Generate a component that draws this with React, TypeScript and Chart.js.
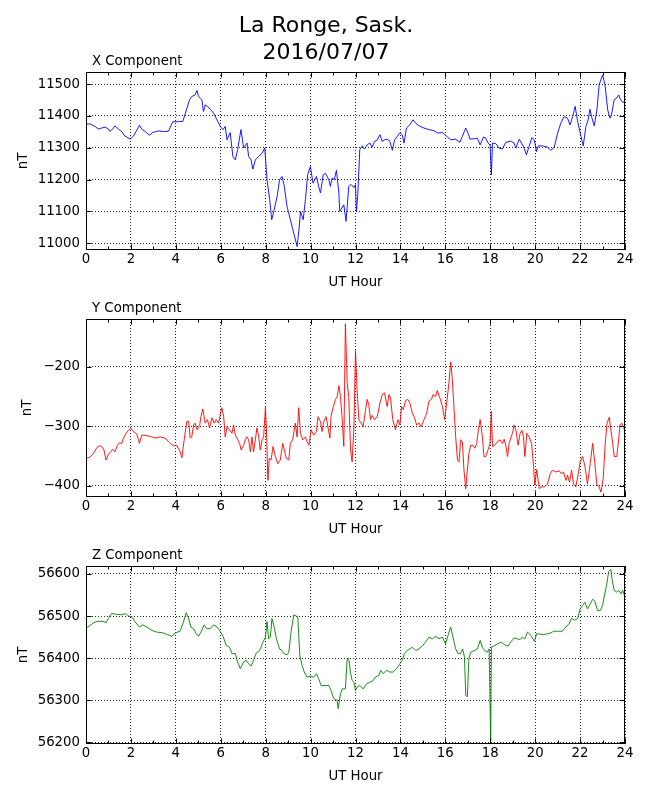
import React, { useEffect, useRef } from "react";
import { Chart, registerables } from "chart.js";

Chart.register(...registerables);

const FONT = "'DejaVu Sans', sans-serif";

// UT hour axis, shared by the three panels
const hourTicks = [0, 2, 4, 6, 8, 10, 12, 14, 16, 18, 20, 22, 24];

// X component (nT)
const hoursX = [
  0, 0.18, 0.4, 0.55, 0.7, 0.85, 1.0, 1.07, 1.22, 1.29, 1.44, 1.59, 1.74, 1.81, 1.96, 2.11, 2.23, 2.38, 2.48, 2.63,
  2.83, 2.97, 3.23, 3.45, 3.67, 3.87, 4.12, 4.31, 4.42, 4.61, 4.71, 4.86, 4.94, 5.01, 5.09, 5.16, 5.23, 5.31, 5.41, 5.53,
  5.68, 5.83, 5.98, 6.1, 6.2, 6.28, 6.42, 6.54, 6.65, 6.75, 6.9, 7.02, 7.17, 7.24, 7.35, 7.43, 7.54, 7.69, 7.84, 7.96,
  8.06, 8.18, 8.27, 8.36, 8.51, 8.62, 8.73, 8.83, 8.95, 9.1, 9.25, 9.4, 9.49, 9.55, 9.67, 9.77, 9.87, 9.99, 10.11, 10.26,
  10.36, 10.44, 10.56, 10.66, 10.81, 10.88, 10.96, 11.06, 11.15, 11.26, 11.3, 11.48, 11.58, 11.7, 11.8, 11.93, 12.0, 12.04, 12.1, 12.19,
  12.3, 12.4, 12.52, 12.64, 12.74, 12.85, 12.97, 13.09, 13.19, 13.29, 13.41, 13.53, 13.64, 13.74, 13.86, 13.98, 14.08, 14.16, 14.27, 14.42,
  14.56, 14.68, 14.83, 15.05, 15.27, 15.49, 15.67, 15.87, 16.09, 16.24, 16.46, 16.65, 16.76, 16.91, 17.01, 17.1, 17.31, 17.43, 17.55, 17.7,
  17.8, 17.9, 17.99, 18.05, 18.1, 18.25, 18.39, 18.54, 18.69, 18.91, 19.06, 19.14, 19.29, 19.39, 19.51, 19.61, 19.73, 19.85, 19.96, 20.06,
  20.13, 20.33, 20.55, 20.7, 20.85, 21.0, 21.14, 21.29, 21.44, 21.55, 21.67, 21.78, 21.89, 22.04, 22.14, 22.26, 22.36, 22.44, 22.51, 22.63,
  22.75, 22.85, 23.0, 23.11, 23.23, 23.33, 23.4, 23.52, 23.63, 23.72, 23.79, 23.9, 24.0,
];
const valuesX = [
  11374, 11375, 11367, 11359, 11362, 11365, 11359, 11351, 11362, 11369, 11359, 11351, 11336, 11334, 11327, 11336, 11351, 11371, 11359, 11351,
  11339, 11348, 11353, 11351, 11352, 11382, 11382, 11383, 11407, 11451, 11461, 11466, 11480, 11461, 11456, 11451, 11414, 11435, 11430, 11421,
  11409, 11388, 11367, 11357, 11367, 11325, 11348, 11273, 11262, 11294, 11357, 11299, 11315, 11273, 11262, 11233, 11262, 11273, 11283, 11299,
  11200, 11137, 11074, 11100, 11147, 11200, 11210, 11179, 11116, 11074, 11032, 10990, 11048, 11100, 11074, 11137, 11215, 11241, 11189, 11210,
  11179, 11158, 11215, 11220, 11200, 11179, 11205, 11200, 11229, 11158, 11100, 11121, 11069, 11179, 11185, 11175, 11184, 11100, 11150, 11294,
  11306, 11296, 11309, 11315, 11302, 11320, 11325, 11341, 11320, 11325, 11327, 11320, 11292, 11325, 11336, 11348, 11341, 11315, 11362, 11372,
  11388, 11377, 11369, 11362, 11357, 11354, 11346, 11348, 11334, 11325, 11327, 11317, 11336, 11362, 11346, 11327, 11329, 11330, 11309, 11334,
  11330, 11315, 11309, 11215, 11315, 11313, 11299, 11296, 11317, 11321, 11315, 11299, 11327, 11315, 11299, 11278, 11304, 11332, 11325, 11288,
  11306, 11306, 11302, 11292, 11302, 11346, 11377, 11398, 11393, 11372, 11398, 11430, 11383, 11336, 11306, 11367, 11388, 11421, 11398, 11369,
  11419, 11498, 11529, 11498, 11419, 11393, 11404, 11451, 11456, 11466, 11453, 11442, 11446,
];
const ticksX = [11000, 11100, 11200, 11300, 11400, 11500];

// Y component (nT)
const hoursY = [
  0, 0.15, 0.33, 0.48, 0.59, 0.7, 0.8, 0.89, 1.0, 1.1, 1.19, 1.29, 1.4, 1.49, 1.59, 1.67, 1.78, 1.89, 1.99, 2.11,
  2.26, 2.38, 2.48, 2.71, 2.93, 3.08, 3.3, 3.52, 3.75, 3.9, 4.04, 4.16, 4.27, 4.37, 4.49, 4.57, 4.64, 4.71, 4.79, 4.86,
  4.94, 5.06, 5.12, 5.2, 5.31, 5.41, 5.5, 5.61, 5.71, 5.8, 5.9, 5.98, 6.05, 6.13, 6.2, 6.28, 6.39, 6.5, 6.57, 6.65,
  6.72, 6.84, 6.91, 7.02, 7.09, 7.17, 7.24, 7.32, 7.39, 7.46, 7.54, 7.61, 7.69, 7.76, 7.84, 7.91, 7.99, 8.03, 8.1, 8.16,
  8.24, 8.33, 8.43, 8.54, 8.65, 8.76, 8.83, 8.92, 9.03, 9.1, 9.2, 9.32, 9.4, 9.47, 9.55, 9.65, 9.77, 9.84, 9.93, 10.02,
  10.14, 10.26, 10.33, 10.44, 10.51, 10.59, 10.69, 10.77, 10.86, 10.91, 11.0, 11.11, 11.18, 11.26, 11.33, 11.41, 11.48, 11.55, 11.63, 11.7,
  11.78, 11.85, 11.93, 12.0, 12.07, 12.15, 12.25, 12.34, 12.45, 12.52, 12.59, 12.67, 12.74, 12.85, 12.97, 13.09, 13.19, 13.29, 13.41, 13.49,
  13.56, 13.66, 13.78, 13.89, 13.98, 14.05, 14.13, 14.23, 14.33, 14.42, 14.53, 14.63, 14.72, 14.83, 14.93, 15.05, 15.17, 15.27, 15.38, 15.46,
  15.57, 15.64, 15.76, 15.87, 15.97, 16.06, 16.16, 16.24, 16.31, 16.39, 16.46, 16.54, 16.61, 16.68, 16.76, 16.83, 16.91, 16.98, 17.05, 17.13,
  17.23, 17.31, 17.4, 17.47, 17.55, 17.65, 17.72, 17.8, 17.9, 17.99, 18.05, 18.1, 18.2, 18.32, 18.44, 18.54, 18.62, 18.69, 18.77, 18.84,
  18.91, 18.99, 19.06, 19.14, 19.24, 19.33, 19.41, 19.48, 19.54, 19.63, 19.73, 19.84, 19.93, 19.98, 20.07, 20.18, 20.28, 20.4, 20.55, 20.67,
  20.77, 20.92, 21.07, 21.17, 21.26, 21.37, 21.44, 21.53, 21.62, 21.71, 21.81, 21.92, 22.0, 22.11, 22.21, 22.33, 22.45, 22.56, 22.66, 22.75,
  22.85, 22.93, 23.03, 23.12, 23.2, 23.3, 23.37, 23.45, 23.52, 23.63, 23.7, 23.78, 23.85, 23.94, 24.0,
];
const valuesY = [
  -353, -353, -346, -336, -333, -334, -340, -357, -347, -343, -339, -343, -332, -328, -329, -320, -312, -307, -303, -309,
  -313, -329, -315, -316, -318, -320, -318, -320, -329, -333, -332, -340, -353, -323, -292, -292, -320, -318, -298, -295,
  -306, -299, -284, -271, -295, -289, -303, -286, -295, -289, -295, -281, -269, -284, -318, -301, -306, -312, -298, -315,
  -320, -329, -340, -332, -323, -318, -323, -343, -318, -343, -323, -303, -318, -340, -323, -318, -268, -301, -391, -354,
  -357, -334, -351, -363, -357, -329, -340, -354, -357, -329, -323, -295, -318, -269, -312, -323, -318, -326, -332, -306,
  -315, -309, -284, -292, -309, -292, -284, -301, -320, -284, -269, -255, -251, -232, -250, -289, -334, -128, -227, -250,
  -340, -360, -300, -173, -238, -289, -295, -301, -272, -255, -264, -289, -282, -289, -284, -261, -247, -244, -267, -247,
  -253, -289, -306, -289, -298, -267, -272, -257, -255, -261, -278, -286, -298, -295, -301, -289, -278, -258, -255, -247,
  -250, -240, -253, -267, -289, -261, -227, -192, -221, -272, -318, -357, -360, -323, -326, -374, -405, -374, -346, -332,
  -332, -337, -329, -306, -289, -318, -351, -351, -340, -329, -275, -334, -332, -326, -323, -329, -322, -332, -351, -329,
  -320, -312, -298, -306, -332, -312, -307, -318, -351, -312, -318, -329, -368, -399, -373, -405, -402, -402, -397, -380,
  -374, -377, -375, -380, -377, -391, -382, -394, -374, -397, -402, -380, -360, -351, -366, -397, -363, -329, -363, -399,
  -402, -411, -388, -329, -295, -285, -306, -329, -351, -351, -329, -298, -295, -301, -312,
];
const ticksY = [-400, -300, -200];

// Z component (nT)
const hoursZ = [
  0, 0.18, 0.4, 0.62, 0.8, 0.89, 1.0, 1.14, 1.37, 1.59, 1.78, 1.89, 2.04, 2.19, 2.38, 2.53, 2.71, 2.93, 3.15, 3.45,
  3.63, 3.82, 3.97, 4.19, 4.34, 4.46, 4.57, 4.67, 4.79, 4.91, 5.01, 5.12, 5.26, 5.38, 5.53, 5.68, 5.83, 5.95, 6.1, 6.25,
  6.39, 6.5, 6.65, 6.75, 6.87, 7.02, 7.14, 7.24, 7.35, 7.46, 7.58, 7.73, 7.88, 7.99, 8.06, 8.13, 8.21, 8.28, 8.36, 8.48,
  8.62, 8.73, 8.8, 8.95, 9.03, 9.13, 9.25, 9.37, 9.43, 9.52, 9.62, 9.72, 9.84, 9.99, 10.14, 10.26, 10.36, 10.47, 10.66, 10.81,
  10.91, 11.03, 11.18, 11.23, 11.33, 11.41, 11.55, 11.63, 11.7, 11.78, 11.85, 11.93, 12.0, 12.07, 12.19, 12.34, 12.49, 12.64, 12.79, 12.89,
  13.04, 13.12, 13.23, 13.38, 13.53, 13.68, 13.83, 13.98, 14.08, 14.18, 14.3, 14.42, 14.53, 14.68, 14.83, 14.97, 15.12, 15.27, 15.42, 15.57,
  15.72, 15.87, 16.01, 16.12, 16.24, 16.34, 16.46, 16.56, 16.68, 16.77, 16.85, 16.91, 16.98, 17.05, 17.13, 17.28, 17.43, 17.55, 17.65, 17.75,
  17.87, 17.95, 18.02, 18.05, 18.17, 18.32, 18.47, 18.59, 18.69, 18.8, 18.91, 19.06, 19.21, 19.33, 19.43, 19.54, 19.66, 19.81, 19.96, 20.07,
  20.22, 20.37, 20.55, 20.7, 20.82, 21.0, 21.22, 21.37, 21.51, 21.62, 21.74, 21.89, 22.0, 22.11, 22.21, 22.33, 22.45, 22.56, 22.66, 22.78,
  22.9, 23.0, 23.07, 23.18, 23.27, 23.37, 23.42, 23.52, 23.63, 23.72, 23.82, 23.9, 24.0,
];
const valuesZ = [
  56471, 56478, 56486, 56488, 56487, 56484, 56495, 56506, 56504, 56503, 56506, 56500, 56498, 56486, 56474, 56479, 56474, 56466, 56462, 56460,
  56456, 56452, 56460, 56464, 56486, 56508, 56494, 56474, 56470, 56458, 56452, 56462, 56479, 56470, 56470, 56479, 56474, 56466, 56452, 56430,
  56426, 56411, 56411, 56391, 56375, 56391, 56395, 56387, 56381, 56395, 56412, 56418, 56438, 56450, 56487, 56446, 56450, 56494, 56478, 56446,
  56422, 56418, 56411, 56408, 56414, 56462, 56503, 56500, 56498, 56407, 56383, 56367, 56355, 56357, 56355, 56363, 56351, 56335, 56335, 56335,
  56323, 56304, 56300, 56280, 56315, 56327, 56327, 56399, 56399, 56365, 56347, 56343, 56323, 56331, 56335, 56327, 56339, 56343, 56347, 56355,
  56359, 56371, 56363, 56371, 56367, 56367, 56375, 56387, 56395, 56411, 56418, 56422, 56426, 56418, 56422, 56429, 56438, 56450, 56446, 56452,
  56446, 56450, 56434, 56454, 56474, 56450, 56422, 56411, 56411, 56422, 56403, 56312, 56308, 56399, 56414, 56418, 56422, 56442, 56426, 56418,
  56414, 56422, 56203, 56426, 56429, 56434, 56438, 56434, 56430, 56429, 56438, 56448, 56446, 56444, 56450, 56446, 56462, 56454, 56440, 56458,
  56457, 56456, 56458, 56460, 56464, 56464, 56464, 56474, 56482, 56495, 56490, 56494, 56517, 56525, 56533, 56517, 56529, 56540, 56535, 56513,
  56513, 56525, 56545, 56573, 56605, 56611, 56589, 56561, 56557, 56561, 56553, 56561, 56545,
];
const ticksZ = [56200, 56300, 56400, 56500, 56600];

const CANVAS_W = 650;
const CANVAS_H = 248;

const fmt = (v: number) => (v < 0 ? "\u2212" + Math.abs(v) : String(v));

// frame, inward tick marks and the small title above each panel
const decorPlugin = {
  id: "decor",
  afterDraw(chart: any, _args: any, opts: any) {
    const { ctx, chartArea, scales } = chart;
    const l = Math.round(chartArea.left) + 0.5;
    const r = Math.round(chartArea.right) - 0.5;
    const t = Math.round(chartArea.top) + 0.5;
    const b = Math.round(chartArea.bottom) - 0.5;
    ctx.save();
    ctx.strokeStyle = "#000";
    ctx.lineWidth = 1;
    ctx.beginPath();
    for (let h = 0; h <= 24; h++) {
      const px = Math.round(scales.x.getPixelForValue(h)) + 0.5;
      const len = h % 2 === 0 ? 5 : 3;
      ctx.moveTo(px, b);
      ctx.lineTo(px, b - len);
      ctx.moveTo(px, t);
      ctx.lineTo(px, t + len);
    }
    scales.y.ticks.forEach((tk: any) => {
      const py = Math.round(scales.y.getPixelForValue(tk.value)) + 0.5;
      ctx.moveTo(l, py);
      ctx.lineTo(l + 5, py);
      ctx.moveTo(r, py);
      ctx.lineTo(r - 5, py);
    });
    ctx.stroke();
    ctx.strokeRect(l, t, r - l, b - t);
    ctx.fillStyle = "#000";
    ctx.font = `13.3px ${FONT}`;
    ctx.textAlign = "left";
    ctx.textBaseline = "alphabetic";
    ctx.fillText(opts.title, chartArea.left + 6, chartArea.top - 7);
    ctx.restore();
  },
};

interface PanelProps {
  top: number;
  title: string;
  hours: number[];
  values: number[];
  color: string;
  yMin: number;
  yMax: number;
  yTicks: number[];
  nTPad: number;
}

const Panel: React.FC<PanelProps> = ({ top, title, hours, values, color, yMin, yMax, yTicks, nTPad }) => {
  const canvasRef = useRef<HTMLCanvasElement>(null);

  useEffect(() => {
    if (!canvasRef.current) {
      return;
    }
    const ctx = canvasRef.current.getContext("2d");
    if (!ctx) {
      return;
    }
    const grid = { color: "rgba(0,0,0,0.85)", lineWidth: 1, drawTicks: false };
    const border = { display: false, dash: [1, 2] };
    const chart = new Chart(ctx, {
      type: "line",
      data: {
        datasets: [
          {
            data: hours.map((h, i) => ({ x: h, y: values[i] })),
            borderColor: color,
            borderWidth: 0.9,
            pointRadius: 0,
            tension: 0,
            fill: false,
          },
        ],
      },
      options: {
        animation: false,
        responsive: false,
        maintainAspectRatio: false,
        layout: { padding: { left: 0, right: 25, top: 25, bottom: 0 } },
        plugins: {
          legend: { display: false },
          tooltip: { enabled: false },
          decor: { title },
        } as any,
        scales: {
          x: {
            type: "linear",
            min: 0,
            max: 24,
            afterBuildTicks: (s: any) => {
              s.ticks = hourTicks.map((v) => ({ value: v }));
            },
            afterFit: (s: any) => {
              s.height = 45;
            },
            grid,
            border,
            ticks: {
              padding: 2,
              autoSkip: false,
              maxRotation: 0,
              color: "#000",
              font: { family: FONT, size: 13.3 },
              callback: (v: any) => fmt(Number(v)),
            },
            title: {
              display: true,
              text: "UT Hour",
              color: "#000",
              font: { family: FONT, size: 13.3 },
              padding: { top: 0, bottom: 4 },
            },
          },
          y: {
            type: "linear",
            min: yMin,
            max: yMax,
            afterBuildTicks: (s: any) => {
              s.ticks = yTicks.map((v) => ({ value: v }));
            },
            afterFit: (s: any) => {
              s.width = 86;
            },
            grid,
            border,
            ticks: {
              padding: 6,
              color: "#000",
              font: { family: FONT, size: 13.3 },
              callback: (v: any) => fmt(Number(v)),
            },
            title: {
              display: true,
              text: "nT",
              color: "#000",
              font: { family: FONT, size: 13.3 },
              padding: { top: nTPad, bottom: 0 },
            },
          },
        },
      },
      plugins: [decorPlugin],
    } as any);
    return () => {
      chart.destroy();
    };
  }, [title, hours, values, color, yMin, yMax, yTicks, nTPad]);

  return (
    <canvas
      ref={canvasRef}
      width={CANVAS_W}
      height={CANVAS_H}
      style={{ position: "absolute", left: 0, top, width: CANVAS_W, height: CANVAS_H }}
    />
  );
};

export default function App() {
  return (
    <div style={{ position: "absolute", left: 0, top: 0, width: 650, height: 800, background: "#fff" }}>
      <Panel top={47} title="X Component" hours={hoursX} values={valuesX} color="#0000ff"
        yMin={10979} yMax={11538} yTicks={ticksX} nTPad={15.3} />
      <Panel top={294} title="Y Component" hours={hoursY} values={valuesY} color="#ff0000"
        yMin={-419} yMax={-120} yTicks={ticksY} nTPad={19.5} />
      <Panel top={541} title="Z Component" hours={hoursZ} values={valuesZ} color="#008000"
        yMin={56196} yMax={56619} yTicks={ticksZ} nTPad={16} />
      <div
        style={{
          position: "absolute",
          left: 1,
          top: 12.3,
          width: 650,
          textAlign: "center",
          fontFamily: FONT,
          fontSize: 22,
          lineHeight: "26.7px",
          color: "#000",
        }}
      >
        La Ronge, Sask.
        <br />
        2016/07/07
      </div>
    </div>
  );
}
